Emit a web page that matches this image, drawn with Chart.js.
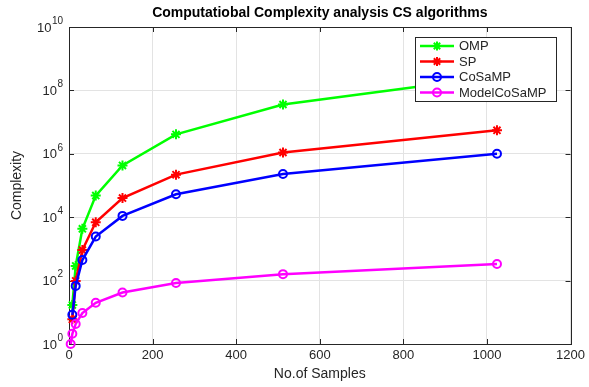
<!DOCTYPE html>
<html>
<head>
<meta charset="utf-8">
<script src="https://cdn.jsdelivr.net/npm/chart.js@4.4.1/dist/chart.umd.min.js"></script>
<style>
  html, body { margin: 0; padding: 0; background: #fff; }
  canvas { display: block; }
</style>
</head>
<body>
<canvas id="chart" width="589" height="387"></canvas>
<script>
// values (log scale)
const samples = [8, 16, 32, 64, 128, 256, 512, 1024];
const modelSamples = [4, 8, 16, 32, 64, 128, 256, 512, 1024];
const ompValues = [17, 290, 4300, 48000, 430000, 4100000, 36000000, 280000000];
const spValues = [6, 98, 920, 6900, 40000, 220000, 1100000, 5500000];
const cosampValues = [8.3, 68, 445, 2450, 11000, 53000, 230000, 1000000];
const modelValues = [1, 2.1, 4.3, 9.5, 20, 42, 84, 160, 333];

const seriesNames = ['OMP', 'SP', 'CoSaMP', 'ModelCoSaMP'];
const seriesColors = ['#00ff00', '#ff0000', '#0000ff', '#ff00ff'];
const seriesMarkers = ['star', 'star', 'circle', 'circle'];

const xTicks = [0, 200, 400, 600, 800, 1000, 1200];
const yTickExponents = [0, 2, 4, 6, 8, 10];

const FONT = "'Liberation Sans', Arial, sans-serif";
const TEXT = '#262626';

const toPoints = (xs, ys) => xs.map((x, i) => ({ x, y: ys[i] }));

function drawMarker(ctx, style, color, x, y) {
  ctx.save();
  ctx.strokeStyle = color;
  if (style === 'circle') {
    ctx.lineWidth = 2;
    ctx.beginPath();
    ctx.arc(x, y, 4, 0, Math.PI * 2);
    ctx.stroke();
  } else {
    ctx.lineWidth = 2;
    const r = 4.5;
    ctx.beginPath();
    for (let k = 0; k < 4; k++) {
      const t = k * Math.PI / 4;
      ctx.moveTo(x - r * Math.cos(t), y - r * Math.sin(t));
      ctx.lineTo(x + r * Math.cos(t), y + r * Math.sin(t));
    }
    ctx.stroke();
  }
  ctx.restore();
}

const framePlugin = {
  id: 'framePlugin',
  beforeDatasetsDraw(chart) {
    const { ctx, chartArea: a, scales } = chart;
    ctx.save();
    ctx.strokeStyle = TEXT;
    ctx.lineWidth = 1;
    ctx.strokeRect(Math.round(a.left) + 0.5, Math.round(a.top) + 0.5,
      Math.round(a.right - a.left), Math.round(a.bottom - a.top));
    ctx.beginPath();
    xTicks.forEach(v => {
      const x = Math.round(scales.x.getPixelForValue(v)) + 0.5;
      ctx.moveTo(x, a.bottom); ctx.lineTo(x, a.bottom - 5);
      ctx.moveTo(x, a.top); ctx.lineTo(x, a.top + 5);
    });
    yTickExponents.forEach(e => {
      const y = Math.round(scales.y.getPixelForValue(Math.pow(10, e))) + 0.5;
      ctx.moveTo(a.left, y); ctx.lineTo(a.left + 5, y);
      ctx.moveTo(a.right, y); ctx.lineTo(a.right - 5, y);
    });
    ctx.stroke();
    ctx.restore();
  },
  afterDraw(chart) {
    const { ctx, chartArea: a, scales } = chart;
    ctx.save();
    ctx.fillStyle = TEXT;

    // y tick labels 10^n
    yTickExponents.forEach(e => {
      const y = scales.y.getPixelForValue(Math.pow(10, e));
      ctx.font = `10px ${FONT}`;
      const expW = ctx.measureText(String(e)).width;
      ctx.textBaseline = 'middle';
      ctx.textAlign = 'left';
      const right = a.left - 6;
      ctx.fillText(String(e), right - expW, y - 6);
      ctx.font = `13px ${FONT}`;
      ctx.textAlign = 'right';
      ctx.fillText('10', right - expW - 0.5, y + 1);
    });

    // title and axis titles
    ctx.textAlign = 'center';
    ctx.textBaseline = 'middle';
    ctx.font = `bold 14px ${FONT}`;
    ctx.fillStyle = '#000';
    ctx.fillText('Computatiobal Complexity analysis CS algorithms', (a.left + a.right) / 2, 13);
    ctx.fillStyle = TEXT;
    ctx.font = `14px ${FONT}`;
    ctx.fillText('No.of Samples', (a.left + a.right) / 2, 374);
    ctx.save();
    ctx.translate(17, (a.top + a.bottom) / 2);
    ctx.rotate(-Math.PI / 2);
    ctx.fillText('Complexity', 0, 0);
    ctx.restore();

    // legend box inside the plot
    const lx = 415.5, ly = 37.5, lw = 141, lh = 64;
    ctx.fillStyle = '#fff';
    ctx.fillRect(lx, ly, lw, lh);
    ctx.strokeStyle = TEXT;
    ctx.lineWidth = 1;
    ctx.strokeRect(lx, ly, lw, lh);
    ctx.font = `13px ${FONT}`;
    ctx.textAlign = 'left';
    seriesNames.forEach((name, i) => {
      const y = 46 + i * 15.5;
      ctx.strokeStyle = seriesColors[i];
      ctx.lineWidth = 2.5;
      ctx.beginPath();
      ctx.moveTo(420, y); ctx.lineTo(454, y);
      ctx.stroke();
      drawMarker(ctx, seriesMarkers[i], seriesColors[i], 437, y);
      ctx.fillStyle = TEXT;
      ctx.fillText(name, 459, y + 0.5);
    });
    ctx.restore();
  }
};

const valueSets = [ompValues, spValues, cosampValues, modelValues];
const xSets = [samples, samples, samples, modelSamples];

const datasets = seriesNames.map((name, i) => ({
  label: name,
  data: toPoints(xSets[i], valueSets[i]),
  borderColor: seriesColors[i],
  backgroundColor: seriesColors[i],
  borderWidth: 2.5,
  pointStyle: seriesMarkers[i],
  pointRadius: seriesMarkers[i] === 'star' ? 5 : 4,
  pointBorderWidth: 2,
  pointBackgroundColor: seriesMarkers[i] === 'star' ? seriesColors[i] : 'rgba(0,0,0,0)',
  pointBorderColor: seriesColors[i],
  tension: 0,
  clip: false,
  order: 4 - i
}));

new Chart(document.getElementById('chart'), {
  type: 'line',
  data: { datasets },
  options: {
    responsive: false,
    animation: false,
    devicePixelRatio: 1,
    layout: { autoPadding: false, padding: { top: 27, right: 16, left: 0, bottom: 0 } },
    plugins: { legend: { display: false }, tooltip: { enabled: false }, title: { display: false } },
    scales: {
      x: {
        type: 'linear',
        min: 0,
        max: 1200,
        afterBuildTicks: s => { s.ticks = xTicks.map(v => ({ value: v })); },
        afterFit: s => { s.height = 43; },
        ticks: { color: TEXT, font: { size: 13, family: FONT }, padding: 4, maxRotation: 0, callback: v => String(v) },
        grid: { color: '#e3e3e3', drawTicks: false },
        border: { display: false }
      },
      y: {
        type: 'logarithmic',
        min: 1,
        max: 1e10,
        afterBuildTicks: s => { s.ticks = yTickExponents.map(e => ({ value: Math.pow(10, e) })); },
        afterFit: s => { s.width = 69; },
        ticks: { display: false },
        grid: { color: '#e3e3e3', drawTicks: false },
        border: { display: false }
      }
    }
  },
  plugins: [framePlugin]
});
</script>
</body>
</html>
